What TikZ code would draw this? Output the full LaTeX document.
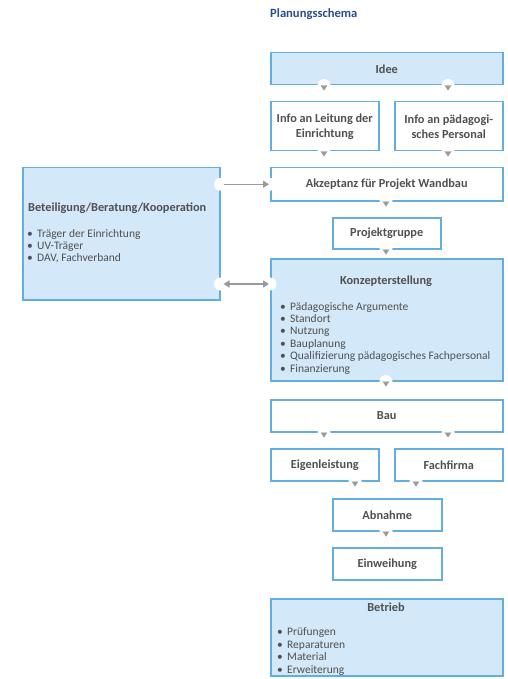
\documentclass[tikz,border=0pt]{standalone}
\usepackage{fontspec}
\setmainfont{Carlito}
\usetikzlibrary{arrows.meta}

\definecolor{rand}{HTML}{62AEE0}
\definecolor{hellblau}{HTML}{D3E8F8}
\definecolor{textgrau}{HTML}{505050}
\definecolor{pfeilgrau}{HTML}{9A9A9A}
\definecolor{titelblau}{HTML}{2B4C8C}
\newcommand{\punkt}{\makebox[10pt][l]{\textbullet}}

\tikzset{
  kasten/.style={draw=rand, line width=1.5pt, fill=white, text=textgrau,
    font=\bfseries\fontsize{12.3}{15}\selectfont, minimum height=32pt,
    anchor=north west, inner sep=0pt, align=center},
  blau/.style={kasten, fill=hellblau},
  titel/.style={inner sep=0pt, text=textgrau, font=\bfseries\fontsize{12.3}{15}\selectfont},
  zeile/.style={anchor=base west, inner sep=0pt, text=textgrau, font=\fontsize{11.5}{12.4}\selectfont},
  fluss/.style={white, line width=0.1pt, {Triangle[reversed, color=pfeilgrau, width=6.5pt, length=5pt]}-},
  quer/.style={pfeilgrau, line width=1.4pt, shorten <=3pt, shorten >=1pt}
}

\begin{document}
\begin{tikzpicture}[x=1pt,y=-1pt]
\useasboundingbox (0,0) rectangle (507,679);
\node[anchor=west, inner sep=0pt, text=titelblau, font=\bfseries\fontsize{12.6}{15}\selectfont] (schema) at (270,14) {Planungsschema};
% Kaesten
\node[blau, minimum width=232pt] (idee) at (270,52) {Idee};
\node[kasten, minimum width=108pt, minimum height=49pt] (info1) at (270,101) {Info an Leitung der\\Einrichtung};
\node[kasten, minimum width=108pt, minimum height=49pt] (info2) at (394,101) {Info an pädagogi-\\sches Personal};
\node[kasten, minimum width=232pt, minimum height=33pt] (akzeptanz) at (270,167) {Akzeptanz für Projekt Wandbau};
\node[blau, minimum width=197pt, minimum height=132pt] (beteiligung) at (22,167) {};
\node[kasten, minimum width=108pt, minimum height=31pt] (projekt) at (332,217) {Projektgruppe};
\node[blau, minimum width=232pt, minimum height=122pt] (konzept) at (270,258) {};
\node[kasten, minimum width=232pt] (bau) at (270,399) {Bau};
\node[kasten, minimum width=108pt] (eigen) at (270,448) {Eigenleistung};
\node[kasten, minimum width=108pt] (fach) at (394,448) {Fachfirma};
\node[kasten, minimum width=109pt] (abnahme) at (332,498) {Abnahme};
\node[kasten, minimum width=109pt] (einweihung) at (332,547) {Einweihung};
\node[blau, minimum width=232pt, minimum height=77pt] (betrieb) at (270,598) {};
% Texte in den blauen Kaesten
\node[titel, anchor=west] (beteiligungtitel) at (28,208) {Beteiligung/Beratung/Kooperation};
\foreach \t [count=\i] in {Träger der Einrichtung, UV-Träger, {DAV, Fachverband}}
  \node[zeile] (beteiligung-\i) at (27,{224.6+12.4*\i}) {\punkt\t};
\node[titel] (konzepttitel) at (386,281) {Konzepterstellung};
\foreach \t [count=\i] in {Pädagogische Argumente, Standort, Nutzung, Bauplanung, Qualifizierung pädagogisches Fachpersonal, Finanzierung}
  \node[zeile] (konzept-\i) at (280,{297.6+12.4*\i}) {\punkt\t};
\node[titel] (betriebtitel) at (386,607) {Betrieb};
\foreach \t [count=\i] in {Prüfungen, Reparaturen, Material, Erweiterung}
  \node[zeile] (betrieb-\i) at (277,{623.4+12.4*\i}) {\punkt\t};
% Pfeile nach unten
\foreach \von/\nach/\x in {idee/info1/324, idee/info2/448, info1/akzeptanz/324, info2/akzeptanz/448,
  akzeptanz/projekt/386, projekt/konzept/386, konzept/bau/386, bau/eigen/324, bau/fach/448,
  eigen/abnahme/355, fach/abnahme/416, abnahme/einweihung/386}
{
  \fill[white] (\x,0 |- \von.south) circle (6.5pt);
  \draw[fluss] (\x,0 |- \von.south) -- (\x,0 |- \nach.north);
}
% Pfeile zur Seite
\fill[white] (beteiligung.east |- akzeptanz) circle (6.5pt);
\fill[white] (akzeptanz.west) circle (6.5pt);
\draw[quer, -{Triangle[width=7pt,length=6pt]}] (beteiligung.east |- akzeptanz) -- (akzeptanz.west);
\fill[white] ([yshift=-3pt]beteiligung.east |- konzepttitel) circle (6.5pt);
\fill[white] ([yshift=-3pt]konzept.west |- konzepttitel) circle (6.5pt);
\draw[quer, {Triangle[width=7pt,length=6pt]}-{Triangle[width=7pt,length=6pt]}] ([yshift=-3pt]beteiligung.east |- konzepttitel) -- ([yshift=-3pt]konzept.west |- konzepttitel);
\end{tikzpicture}
\end{document}
